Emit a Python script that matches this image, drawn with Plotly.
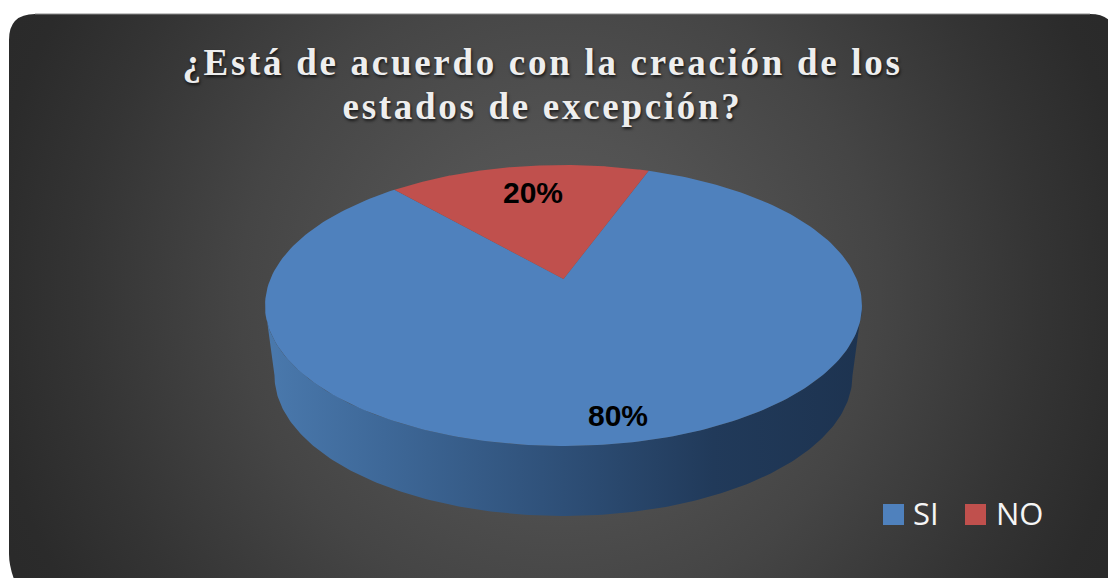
import numpy as np
import plotly.graph_objects as go

# ---- data ----
categories = ["SI", "NO"]
values = [80, 20]
colors = ["#4f81bd", "#c0504d"]
title_lines = ["¿Está de acuerdo con la creación de los", "estados de excepción?"]

# ---- canvas and 3-D view constants (pixels) ----
W, H = 1108, 578
APEX_X, APEX_Y = 563.5, 279.0      # where the pie's centre projects to
A, B, K = 293.1, 135.5, 0.1886     # perspective projection of the disc
WALL_RX, WALL_RY, WALL_CY = 289.0, 140.5, 375.5
TOP_RX, TOP_RY, TOP_CY = 298.5, 140.5, 305.5
NO_MID = np.radians(-10.6)         # direction of the middle of the NO slice
WARP = np.radians(5.68)            # view foreshortening of the far side


def rim(deg_from_mid):
    """Point on the disc's rim; argument is degrees clockwise from NO's middle."""
    p = np.radians(deg_from_mid)
    t = NO_MID + p - WARP * np.sin(2 * p)
    d = 1 + K * np.cos(t)
    return APEX_X + A * np.sin(t) / d, APEX_Y - B * np.cos(t) / d


def slice_polygon(d0, d1):
    xs, ys = rim(np.linspace(d0, d1, 240))
    return np.r_[APEX_X, xs, APEX_X], np.r_[APEX_Y, ys, APEX_Y]


no_half = 360 * values[1] / sum(values) / 2
si_x, si_y = slice_polygon(no_half, 360 - no_half)
no_x, no_y = slice_polygon(-no_half, no_half)

a = np.linspace(0, np.pi, 200)
wall_x = np.r_[APEX_X + WALL_RX * np.cos(a), APEX_X + TOP_RX * np.cos(a[::-1])]
wall_y = np.r_[WALL_CY + WALL_RY * np.sin(a), TOP_CY + TOP_RY * np.sin(a[::-1])]

# background glow: a big circle, trimmed by the page mask below
g = np.linspace(0, 2 * np.pi, 200)
GLOW_R = 640
glow_x = 560 + GLOW_R * np.cos(g)
glow_y = 295 + GLOW_R * np.sin(g)

fig = go.Figure()
fig.add_trace(go.Scatter(
    x=glow_x, y=glow_y, mode="lines", line=dict(width=0), fill="toself",
    fillgradient=dict(type="radial", colorscale=[
        [0.0, "#5c5c5c"], [0.25, "#525252"], [0.5, "#454545"],
        [0.75, "#343434"], [0.9, "#2b2b2b"], [1.0, "#292929"]]),
    hoverinfo="skip", showlegend=False))
fig.add_trace(go.Scatter(
    x=wall_x, y=wall_y, mode="lines", line=dict(width=0), fill="toself",
    fillgradient=dict(type="horizontal", colorscale=[
        [0.0, "#4a79ad"], [0.2, "#3e6898"], [0.5, "#2e4f77"],
        [0.75, "#213a5a"], [1.0, "#1d3350"]]),
    hoverinfo="skip", showlegend=False))
fig.add_trace(go.Scatter(
    x=si_x, y=si_y, mode="lines", line=dict(width=0), fill="toself",
    fillcolor=colors[0], name=categories[0], hoverinfo="name", showlegend=False))
fig.add_trace(go.Scatter(
    x=no_x, y=no_y, mode="lines", line=dict(width=0), fill="toself",
    fillcolor=colors[1], name=categories[1], hoverinfo="name", showlegend=False))

# legend keys
legend_x = [893.5, 975.5]
fig.add_trace(go.Scatter(
    x=legend_x, y=[514.5, 514.5], mode="markers",
    marker=dict(symbol="square", size=21, color=colors, line=dict(width=0)),
    hoverinfo="skip", showlegend=False))

annotations = []
for name, tx in zip(categories, [911, 994]):
    annotations.append(dict(
        x=tx, y=513, text=name, showarrow=False, xanchor="left", yanchor="middle",
        font=dict(family="Open Sans", size=31, color="#f5f5f5"),
        xref="x", yref="y"))
for v, (lx, ly) in zip(values, [(618, 415), (533, 192)]):
    annotations.append(dict(
        x=lx, y=ly, text=f"{v}%", showarrow=False, xanchor="center", yanchor="middle",
        font=dict(family="Liberation Sans", size=30, color="#000000", weight="bold"),
        xref="x", yref="y"))

# page surround: everything outside the rounded dark panel is white
L, T, R, Bm, C = 9, 14, 1116, 580, 26
mask = (f"M0,0 H{W} V{H} H0 Z "
        f"M{L+C},{T} H{R-C} Q{R},{T} {R},{T+C} V{H+40} H{L+C} "
        f"Q{L},{Bm} {L},{Bm-C} V{T+C} Q{L},{T} {L+C},{T} Z")
shapes = [
    dict(type="path", path=mask, xref="x", yref="y", fillcolor="#ffffff",
         fillrule="evenodd", line=dict(width=0), layer="above"),
    dict(type="line", x0=L + C, x1=R - C, y0=T, y1=T, xref="x", yref="y",
         line=dict(color="#8a8a8a", width=1), layer="above"),
]

fig.update_layout(
    width=W, height=H, margin=dict(l=0, r=0, t=0, b=0),
    paper_bgcolor="#ffffff", plot_bgcolor="#ffffff",
    xaxis=dict(range=[0, W], visible=False, fixedrange=True),
    yaxis=dict(range=[H, 0], visible=False, fixedrange=True),
    showlegend=False, shapes=shapes, annotations=annotations,
    title=dict(
        text="<br>".join(title_lines), x=542.5 / W, xanchor="center",
        y=1 - 75 / H, yanchor="top",
        font=dict(family="Liberation Serif", size=37, color="#eeeeee", weight="bold",
                  shadow="1px 2px 3px rgba(0,0,0,0.7)")),
)

post = """
document.body.style.margin = '0';
document.querySelectorAll('.gtitle').forEach(function (e) {
  e.style.letterSpacing = '2.7px';
  e.querySelectorAll('tspan.line').forEach(function (t, i) { if (i > 0) t.setAttribute('dy', (i * 1.19) + 'em'); });
});
"""
fig.write_html("out.html", post_script=post, config={"displayModeBar": False})
